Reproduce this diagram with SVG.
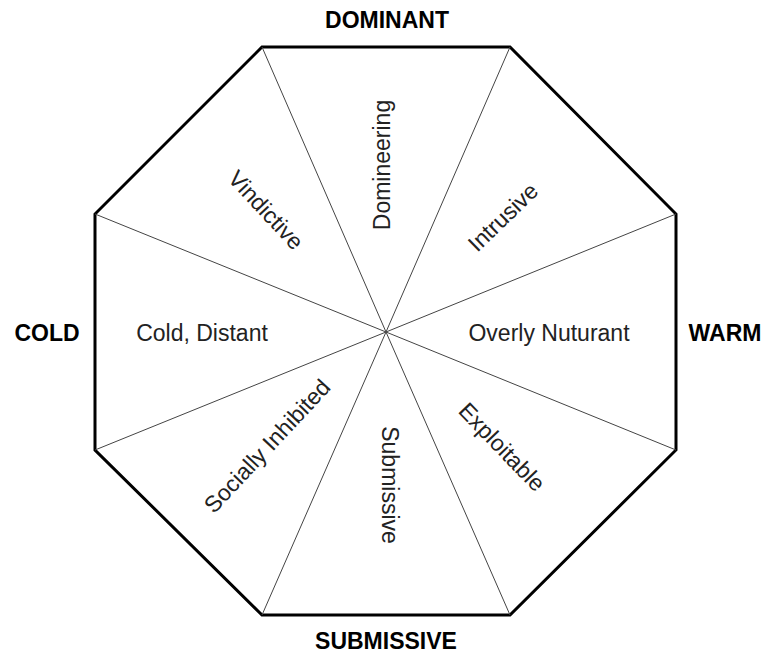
<svg xmlns="http://www.w3.org/2000/svg" width="768" height="659" viewBox="0 0 768 659">
<style>
.axis{font-family:"Liberation Sans",Arial,sans-serif;font-weight:bold;font-size:23px;fill:#000}
.lab{font-family:"Liberation Sans",Arial,sans-serif;font-size:23px;fill:#222;text-anchor:middle;dominant-baseline:central}
.spoke{stroke:#444;stroke-width:1}
</style>
<rect width="768" height="659" fill="#fff"/>
<g id="octagon">
<polygon points="262,47 510,47 676,214 676,450 510,615 262,615 95,450 95,214" fill="none" stroke="#000" stroke-width="3" stroke-linejoin="miter"/>
</g>
<g id="connectors">
<line class="spoke" x1="386" y1="332" x2="262" y2="47"/>
<line class="spoke" x1="386" y1="332" x2="510" y2="47"/>
<line class="spoke" x1="386" y1="332" x2="676" y2="214"/>
<line class="spoke" x1="386" y1="332" x2="676" y2="450"/>
<line class="spoke" x1="386" y1="332" x2="510" y2="615"/>
<line class="spoke" x1="386" y1="332" x2="262" y2="615"/>
<line class="spoke" x1="386" y1="332" x2="95" y2="450"/>
<line class="spoke" x1="386" y1="332" x2="95" y2="214"/>
</g>
<g id="dominant"><text class="axis" x="387" y="28" text-anchor="middle">DOMINANT</text></g>
<g id="submissive-axis"><text class="axis" x="386" y="649" text-anchor="middle">SUBMISSIVE</text></g>
<g id="cold"><text class="axis" x="47" y="341" text-anchor="middle">COLD</text></g>
<g id="warm"><text class="axis" x="725" y="341" text-anchor="middle">WARM</text></g>
<g id="domineering"><text class="lab" transform="translate(382,165) rotate(-90)">Domineering</text></g>
<g id="vindictive"><text class="lab" transform="translate(266,210) rotate(47)">Vindictive</text></g>
<g id="intrusive"><text class="lab" transform="translate(503,217) rotate(-44)">Intrusive</text></g>
<g id="cold-distant"><text class="lab" x="202" y="333">Cold, Distant</text></g>
<g id="overly-nuturant"><text class="lab" x="549" y="333">Overly Nuturant</text></g>
<g id="socially-inhibited"><text class="lab" transform="translate(267,446) rotate(-47)">Socially Inhibited</text></g>
<g id="submissive"><text class="lab" transform="translate(390,485) rotate(90)">Submissive</text></g>
<g id="exploitable"><text class="lab" transform="translate(502,447) rotate(46)">Exploitable</text></g>
</svg>
